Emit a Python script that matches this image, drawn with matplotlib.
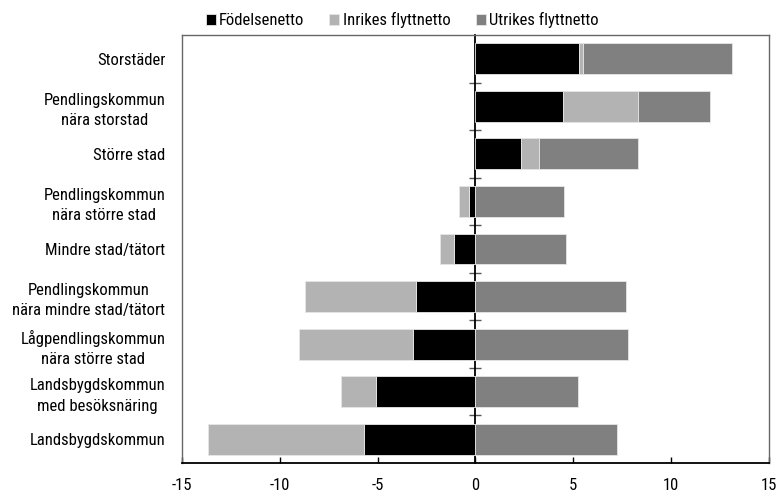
import matplotlib
matplotlib.use("Agg")
import matplotlib.pyplot as plt
import numpy as np

plt.rcParams["font.family"] = ["Roboto Condensed", "DejaVu Sans"]
plt.rcParams["axes.unicode_minus"] = False

kategorier = [
    "Storstäder",
    "Pendlingskommun\nnära storstad",
    "Större stad",
    "Pendlingskommun\nnära större stad",
    "Mindre stad/tätort",
    "Pendlingskommun\nnära mindre stad/tätort",
    "Lågpendlingskommun\nnära större stad",
    "Landsbygdskommun\nmed besöksnäring",
    "Landsbygdskommun",
]
fodelsenetto = [5.3, 4.45, 2.35, -0.33, -1.1, -3.05, -3.2, -5.1, -5.72]
inrikes = [0.2, 3.85, 0.92, -0.5, -0.7, -5.65, -5.8, -1.76, -7.95]
utrikes = [7.6, 3.7, 5.05, 4.54, 4.63, 7.7, 7.77, 5.23, 7.25]

serier = [
    ("Födelsenetto", fodelsenetto, "#000000"),
    ("Inrikes flyttnetto", inrikes, "#b3b3b3"),
    ("Utrikes flyttnetto", utrikes, "#808080"),
]

fig = plt.figure(figsize=(7.81, 4.95), dpi=100)
ax = fig.add_axes([0.233, 0.0646, 0.7516, 0.8647])

y = np.arange(len(kategorier))
pos = np.zeros(len(kategorier))
neg = np.zeros(len(kategorier))
for namn, varden, farg in serier:
    v = np.array(varden)
    vanster = np.where(v >= 0, pos, neg)
    ax.barh(y, v, left=vanster, height=0.65, color=farg, label=namn,
            edgecolor="#e6e6e6", linewidth=0.6)
    pos = pos + np.where(v >= 0, v, 0)
    neg = neg + np.where(v < 0, v, 0)

ax.set_xlim(-15, 15)
ax.set_ylim(len(kategorier) - 0.5, -0.5)
ax.set_xticks(np.arange(-15, 16, 5))
ax.tick_params(axis="x", direction="in", length=4, width=1, labelsize=12, pad=11)
ax.set_yticks(y)
ax.set_yticklabels(kategorier, fontsize=12, multialignment="center", linespacing=1.45)
ax.tick_params(axis="y", length=0, pad=12)

for s in ["top", "left", "right"]:
    ax.spines[s].set_color("#666666")
    ax.spines[s].set_linewidth(1)
ax.spines["bottom"].set_color("black")
ax.spines["bottom"].set_linewidth(1.3)

# nollinje med streck mellan kategorierna
nolla = ax.secondary_yaxis(0.5)
nolla.set_yticks(np.arange(0.5, len(kategorier) - 0.5, 1))
nolla.set_yticklabels([])
nolla.tick_params(direction="inout", length=8, width=1, color="#555555",
                  labelleft=False, labelright=False)
for s in nolla.spines.values():
    s.set_linewidth(1.3)
    s.set_color("black")

ax.legend(loc="lower center", bbox_to_anchor=(0.375, 1.0), ncol=3, frameon=False,
          fontsize=12, handlelength=0.6, handleheight=0.6, handletextpad=0.2,
          columnspacing=1.5, borderaxespad=0.0)

fig.savefig("out.png", dpi=100)
